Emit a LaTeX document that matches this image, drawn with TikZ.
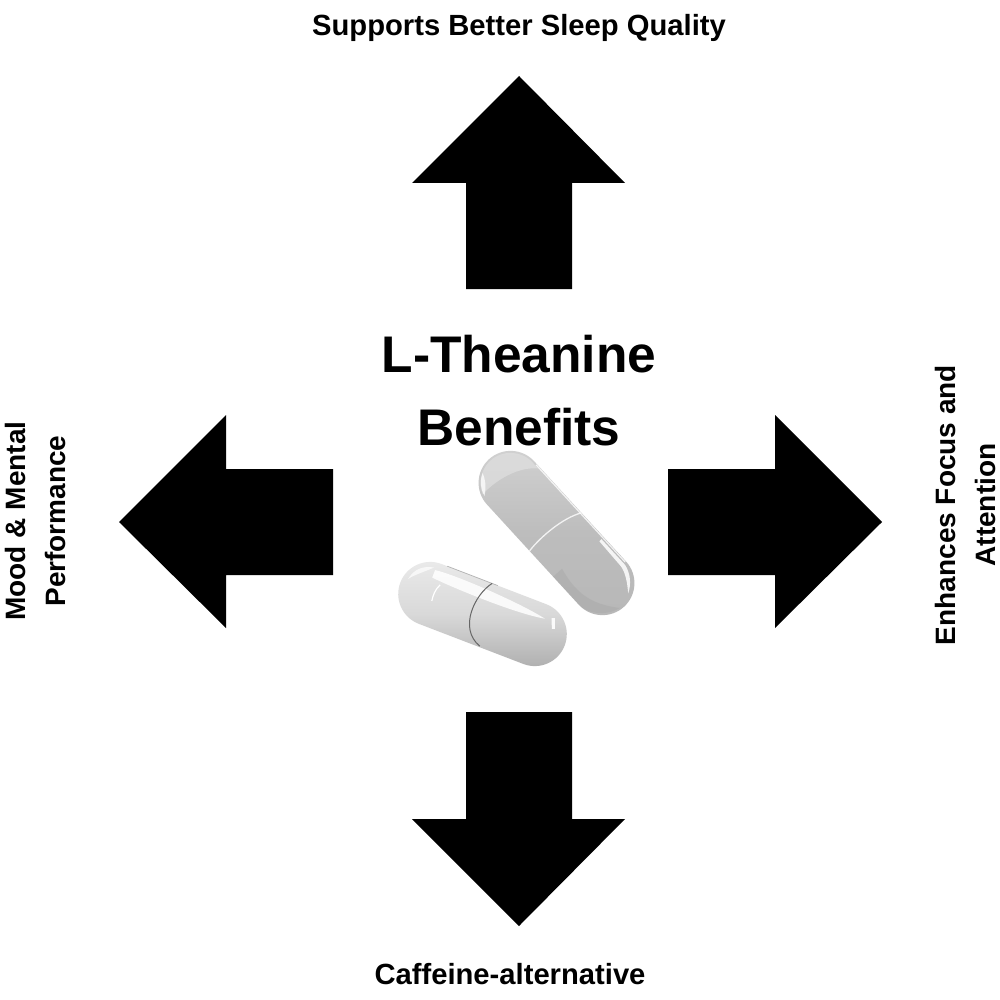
\documentclass[tikz,border=0pt]{standalone}
\usepackage{fontspec}
\setmainfont{Liberation Sans}
\tikzset{
  blockarrow/.style={fill=black,draw=none},
  label/.style={font=\fontsize{28}{40}\selectfont\bfseries,align=center,inner sep=0pt,text=black},
  hlabel/.style={label,font=\fontsize{29.2}{40}\selectfont\bfseries},
  title/.style={font=\fontsize{51.5}{73}\selectfont\bfseries,align=center,inner sep=0pt,text=black},
  seamlight/.style={draw=white!90!gray,line width=1.3pt},
  seamdark/.style={draw=black!60,line width=1pt},
  gloss/.style={fill=white,draw=none},
}
\begin{document}
\begin{tikzpicture}[x=1pt,y=-1pt]
\useasboundingbox (0,0) rectangle (1000,1000);
\fill[white] (0,0) rectangle (1000,1000);
% arrows
\fill[blockarrow] (519,76) -- (625,183) -- (572,183) -- (572,289) -- (466,289) -- (466,183) -- (412,183) -- cycle;
\fill[blockarrow] (519,926) -- (625,819) -- (572,819) -- (572,712) -- (466,712) -- (466,819) -- (412,819) -- cycle;
\fill[blockarrow] (119,522) -- (226,415) -- (226,469) -- (333,469) -- (333,575) -- (226,575) -- (226,628) -- cycle;
\fill[blockarrow] (882,522) -- (775,415) -- (775,469) -- (668,469) -- (668,575) -- (775,575) -- (775,628) -- cycle;
% labels
\node[hlabel] (sleep) at (519,28) {Supports Better Sleep Quality};
\node[hlabel] (caffeine) at (510,974) {Caffeine-alternative};
\node[label,rotate=90] (mood) at (35,521) {Mood \& Mental\\Performance};
\node[label,rotate=90] (focus) at (965,505) {Enhances Focus and\\Attention};
\node[title] (main) at (519,391) {L-Theanine\\Benefits};
% upper capsule
\begin{scope}[shift={(556.5,533)},rotate=-47.5]
  \path[top color=black!18,bottom color=black!28,middle color=black!26]
    (-68,-32) arc[start angle=270,end angle=90,radius=32] -- (68,32) arc[start angle=90,end angle=-90,radius=32] -- cycle;
  \fill[black!12,opacity=.7] (-68,-30) arc[start angle=270,end angle=110,radius=30] .. controls (-80,18) and (-78,-14) .. (-60,-30) -- cycle;
  \fill[gloss,opacity=.75] (-94,14) .. controls (-90,22) and (-84,26) .. (-76,28) .. controls (-82,20) and (-88,16) .. (-94,14) -- cycle;
  \fill[gloss,opacity=.85] (35,-29) -- (70,-29) .. controls (80,-27) and (88,-21) .. (93,-12) .. controls (84,-19) and (76,-24) .. (68,-25) -- (35,-26) -- cycle;
  \fill[black!45,opacity=.18] (30,20) .. controls (55,26) and (75,24) .. (98,4) arc[start angle=0,end angle=90,radius=0] .. controls (95,20) and (80,32) .. (68,32) -- (30,32) -- cycle;
  \draw[seamlight] (2,-32) .. controls (-7,-15) and (-8,15) .. (-5,32);
  \draw[white,opacity=.8,line width=1.2pt] (-64,-31) -- (68,-31);
\end{scope}
% lower capsule
\begin{scope}[shift={(482.5,614)},rotate=-21]
  \path[top color=black!8,bottom color=black!32,middle color=black!15]
    (-56,-32) arc[start angle=270,end angle=90,radius=32] -- (56,32) arc[start angle=90,end angle=-90,radius=32] -- cycle;
  \fill[gloss,opacity=.85] (-60,-24) .. controls (-40,-27) and (30,-24) .. (60,-18) .. controls (30,-12) and (-40,-14) .. (-60,-16) -- cycle;
  \fill[gloss,opacity=.7] (-82,-6) .. controls (-80,-18) and (-72,-24) .. (-62,-26) .. controls (-70,-18) and (-78,-12) .. (-82,-6) -- cycle;
  \fill[gloss,opacity=.9] (66,-21) -- (69,-22) -- (73,-12) -- (70,-11) -- cycle;
  \draw[black!30,line width=.7pt] (-50,-32) -- (4,-32);
  \draw[seamdark] (-2,-32) .. controls (-14,-16) and (-18,22) .. (9,31);
  \draw[white,line width=1.2pt] (-50,-12) .. controls (-53,-6) and (-53,0) .. (-52,6);
\end{scope}
\end{tikzpicture}
\end{document}
